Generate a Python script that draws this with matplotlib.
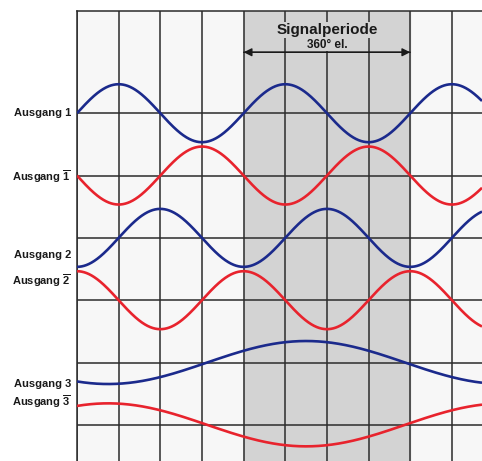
import numpy as np
import matplotlib
matplotlib.use("Agg")
import matplotlib.pyplot as plt

plt.rcParams['font.family'] = ['Liberation Sans', 'DejaVu Sans']
plt.rcParams['mathtext.fontset'] = 'custom'
plt.rcParams['mathtext.rm'] = 'Liberation Sans'
plt.rcParams['mathtext.bf'] = 'Liberation Sans:bold'

# ---- data ----
labels = ["Ausgang 1", r"Ausgang $\mathbf{\overline{1}}$",
          "Ausgang 2", r"Ausgang $\mathbf{\overline{2}}$",
          "Ausgang 3", r"Ausgang $\mathbf{\overline{3}}$"]
label_y = [0.0, -1.01, -2.27, -2.69, -4.34, -4.63]
centers = [0, -1, -2, -3, -4, -5]
amplitudes = [0.465, 0.465, 0.465, 0.465, 0.345, 0.345]
periods_deg = [360, 360, 360, 360, 855, 855]
phases_deg = [0, 180, -90, 90, -118.4, 61.6]   # phase of sine at x=0
colors = ["#1b2a8c", "#e8232d", "#1b2a8c", "#e8232d", "#1b2a8c", "#e8232d"]
band_start, band_end = 360, 720
vlines_deg = list(range(0, 900, 90))
hlines = [0, -1, -2, -3, -4, -5]

x_max = 875
y_top, y_bot = 1.64, -5.58

fig = plt.figure(figsize=(4.82, 4.61), dpi=100)
ax = fig.add_axes([77/482, 0.0, 1 - 77/482, 1 - 11/461])
ax.set_xlim(0, x_max)
ax.set_ylim(y_bot, y_top)
ax.set_facecolor("#f7f7f7")
for s in ["right", "bottom"]:
    ax.spines[s].set_visible(False)
for s in ["left", "top"]:
    ax.spines[s].set_color("#2b2b2b")
    ax.spines[s].set_linewidth(1.1)
ax.set_xticks([]); ax.set_yticks([])

ax.axvspan(band_start, band_end, color="#d3d3d3", zorder=0)
for v in vlines_deg:
    ax.axvline(v, color="#2b2b2b", lw=1.1, zorder=1)
for h in hlines:
    ax.axhline(h, color="#2b2b2b", lw=1.1, zorder=1)

x = np.linspace(0, x_max, 1200)
for c, a, p, ph, col in zip(centers, amplitudes, periods_deg, phases_deg, colors):
    y = c + a * np.sin(2 * np.pi * x / p + np.deg2rad(ph))
    ax.plot(x, y, color=col, lw=1.9, zorder=3, solid_capstyle="butt")

for lab, ly in zip(labels, label_y):
    ax.text(-13, ly, lab, ha="right", va="center", fontsize=8,
            fontweight="bold", color="#1a1a1a", clip_on=False)

bbox = dict(facecolor="#d3d3d3", edgecolor="none", pad=0.5)
ax.text(540, 1.336, "Signalperiode", ha="center", va="center",
        fontsize=11, fontweight="bold", color="#1a1a1a", bbox=bbox, zorder=4)
ax.text(540, 1.10, "360° el.", ha="center", va="center",
        fontsize=8.5, fontweight="bold", color="#1a1a1a", bbox=bbox, zorder=4)
ax.annotate("", xy=(band_start, 0.978), xytext=(band_end, 0.978),
            arrowprops=dict(arrowstyle="-|>", color="#1a1a1a", lw=1.0,
                            mutation_scale=12, shrinkA=0, shrinkB=0), zorder=4)
ax.annotate("", xy=(band_end, 0.978), xytext=(band_start, 0.978),
            arrowprops=dict(arrowstyle="-|>", color="#1a1a1a", lw=1.0,
                            mutation_scale=12, shrinkA=0, shrinkB=0), zorder=4)

fig.savefig("out.png", dpi=100, facecolor="white")
